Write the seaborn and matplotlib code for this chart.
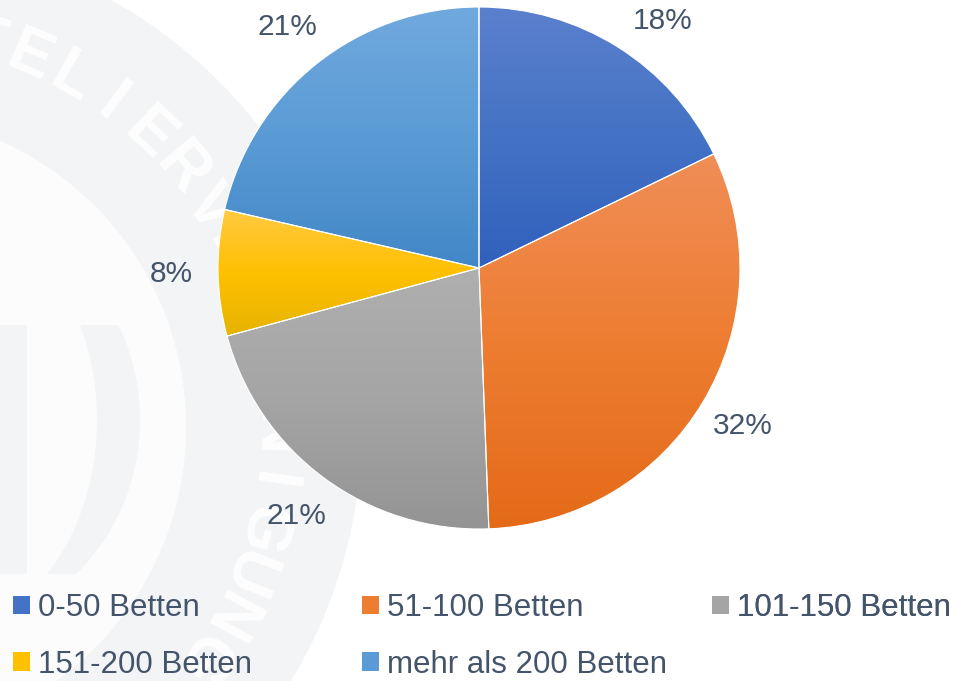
import numpy as np
import seaborn as sns
import matplotlib.pyplot as plt
from matplotlib.patches import Wedge, Circle, Polygon, Patch
from matplotlib.colors import to_rgb

# Daten
kategorien = ["0-50 Betten", "51-100 Betten", "101-150 Betten",
              "151-200 Betten", "mehr als 200 Betten"]
anteile = [17.8, 31.6, 21.4, 7.8, 21.4]

# Farben (hell oben, Grundfarbe, dunkel unten)
basis = ["#4472c4", "#ed7d31", "#a5a5a5", "#ffc000", "#5b9bd5"]
hell = ["#5b80cd", "#f08e57", "#afafaf", "#ffca42", "#70a9de"]
dunkel = ["#3160bd", "#e46a18", "#949494", "#e6b300", "#4287c7"]
textfarbe = "#44546a"

sns.set_theme(style="white")
plt.rcParams["font.family"] = ["Liberation Sans", "DejaVu Sans"]

W, H = 957, 681
fig = plt.figure(figsize=(W / 100, H / 100), dpi=100)
ax = fig.add_axes([0, 0, 1, 1])

# Wasserzeichen im Hintergrund
wz_mitte = (-127, H - 427)
grau = "#f3f4f6"
ax.add_patch(Wedge(wz_mitte, 489, 0, 360, width=176, facecolor=grau, edgecolor="none", zorder=0))
ax.add_patch(Circle(wz_mitte, 313, facecolor="#fcfcfc", edgecolor="none", zorder=0))
# "D" im Logo
ax.add_patch(Polygon([(-20, H - 325), (27, H - 325), (27, H - 574), (-20, H - 574)],
                     facecolor=grau, edgecolor="none", zorder=0))
dy = np.linspace(-95, 154, 60)
faktor = np.sqrt(1 - (dy / 210) ** 2)
aussen = np.column_stack([-60 + 200 * faktor, H - 420 - dy])
innen = np.column_stack([-60 + 157 * faktor, H - 420 - dy])[::-1]
ax.add_patch(Polygon(np.vstack([aussen, innen]), facecolor=grau, edgecolor="none", zorder=0))
for i, buchstabe in enumerate("HOTELIERVEREINIGUNG"):
    winkel = np.deg2rad(87.4 - 6.8 * i)
    ax.text(wz_mitte[0] + 401 * np.cos(winkel), wz_mitte[1] + 401 * np.sin(winkel), buchstabe,
            rotation=np.rad2deg(winkel) - 90, ha="center", va="center",
            fontsize=46, fontweight="bold", color="#fefefe", zorder=0.5)

# Kreisdiagramm
mitte_pie = (479, H - 268)
radius = 261
wedges, _, pct = ax.pie(anteile, colors=sns.color_palette(basis), startangle=90, counterclock=False,
                        center=mitte_pie, radius=radius, autopct="%.0f%%", pctdistance=1.18,
                        wedgeprops=dict(edgecolor="white", linewidth=0.8),
                        textprops=dict(color=textfarbe, fontsize=21.5))

# Beschriftungen, die oben aus dem Bild ragen, entlang des Kreises verschieben
for t in pct:
    x, y = t.get_position()
    r = np.hypot(x - mitte_pie[0], y - mitte_pie[1])
    while y > H - 20:
        a = np.arctan2(y - mitte_pie[1], x - mitte_pie[0])
        a += np.deg2rad(-0.5) if x > mitte_pie[0] else np.deg2rad(0.5)
        x, y = mitte_pie[0] + r * np.cos(a), mitte_pie[1] + r * np.sin(a)
    t.set_position((x, y))

for w, c1, c2, c3 in zip(wedges, hell, basis, dunkel):
    bb = w.get_path().get_extents()
    t = np.linspace(0, 1, 256)[:, None]
    oben, mitte, unten = np.array(to_rgb(c1)), np.array(to_rgb(c2)), np.array(to_rgb(c3))
    farbe = np.where(t < 0.5, oben + (mitte - oben) * (t / 0.5), mitte + (unten - mitte) * ((t - 0.5) / 0.5))
    img = ax.imshow(farbe[:, None, :], extent=(bb.x0, bb.x1, bb.y0, bb.y1), origin="upper",
                    aspect="auto", interpolation="bilinear", zorder=1)
    img.set_clip_path(w)
    w.set_facecolor("none")
    w.set_zorder(2)

# Legende in drei Spalten
spalten = [(13, [0, 3]), (362, [1, 4]), (712, [2])]
for x, idx in spalten:
    handles = [Patch(facecolor=basis[i], edgecolor="none") for i in idx]
    leg = ax.legend(handles, [kategorien[i] for i in idx], loc="upper left",
                    bbox_to_anchor=(x, H - 593), bbox_transform=ax.transData,
                    frameon=False, fontsize=22.5, handlelength=0.55, handleheight=0.55,
                    handletextpad=0.25, labelspacing=0.85, borderpad=0, borderaxespad=0,
                    labelcolor=textfarbe)
    ax.add_artist(leg)

ax.set_xlim(0, W)
ax.set_ylim(0, H)
ax.set_aspect("equal")
ax.axis("off")

fig.savefig("out.png", dpi=100, facecolor="white")
